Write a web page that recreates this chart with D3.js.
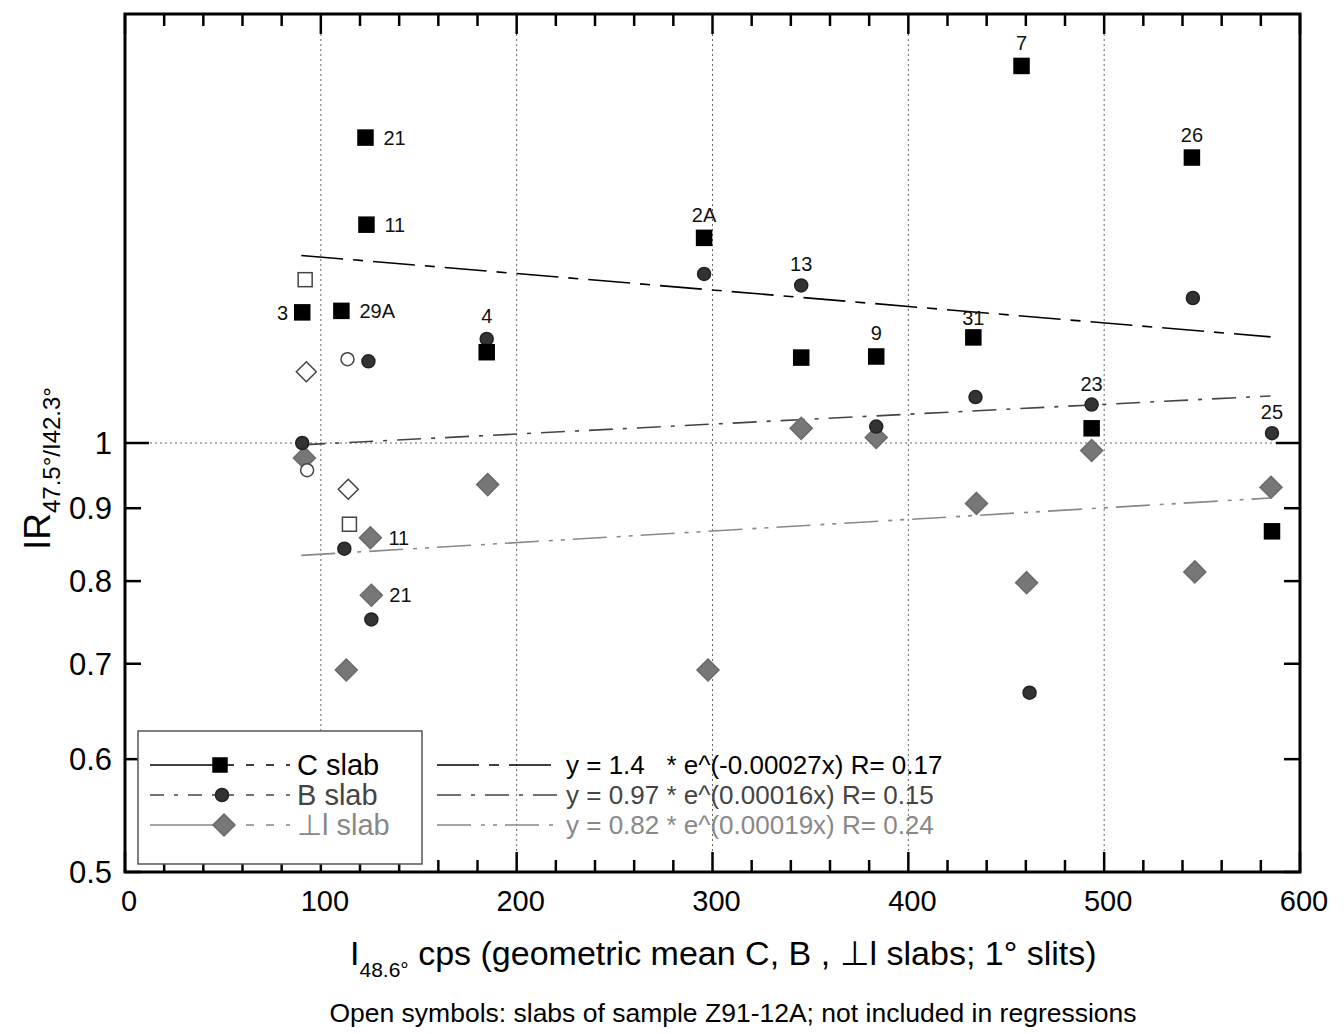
<!DOCTYPE html>
<html>
<head>
<meta charset="utf-8">
<script src="https://cdn.jsdelivr.net/npm/d3@7"></script>
<style>
body { margin:0; background:#fff; }
text { font-family: "Liberation Sans Narrow", "Liberation Sans", Arial, sans-serif; }
</style>
</head>
<body>
<div id="chart-area"></div>
<script>
// C slab (black squares)
var cX = [90.5, 110.5, 122.8, 123.3, 184.7, 295.7, 345.3, 383.6, 433.2, 457.8, 493.6, 544.8, 585.7];
var cY = [1.235, 1.238, 1.638, 1.423, 1.158, 1.393, 1.148, 1.150, 1.186, 1.839, 1.024, 1.586, 0.867];
var cLab = ["3", "29A", "21", "11", "4", "2A", "", "9", "31", "7", "", "26", ""];
// B slab (dark circles)
var bX = [90.5, 112, 124.3, 125.8, 184.7, 295.7, 345.3, 383.6, 434.3, 461.9, 493.6, 545.3, 585.7];
var bY = [1.0, 0.843, 1.141, 0.752, 1.183, 1.314, 1.290, 1.027, 1.077, 0.668, 1.064, 1.264, 1.016];
var bLab = ["", "", "", "", "", "", "13", "", "", "", "23", "", "25"];
// perpendicular slab (grey diamonds)
var pX = [91.6, 113, 125.3, 125.8, 185.2, 297.7, 345.3, 383.6, 434.8, 460.4, 493.6, 546.3, 585.2];
var pY = [0.976, 0.693, 0.858, 0.782, 0.935, 0.693, 1.024, 1.009, 0.907, 0.798, 0.988, 0.812, 0.931];
var pLab = ["", "", "11", "21", "", "", "", "", "", "", "", "", ""];
// open symbols, sample Z91-12A
var oSqX = [92, 114.6], oSqY = [1.302, 0.877];
var oCiX = [113.6, 93], oCiY = [1.145, 0.957];
var oDiX = [92.6, 114], oDiY = [1.122, 0.928];
// regression line end points
var regX = [90, 585];
var regC = [1.354, 1.187];
var regB = [0.997, 1.079];
var regP = [0.834, 0.915];
var eqText = ["y = 1.4   * e^(-0.00027x) R= 0.17",
              "y = 0.97 * e^(0.00016x) R= 0.15",
              "y = 0.82 * e^(0.00019x) R= 0.24"];
var yTicks = [0.5, 0.6, 0.7, 0.8, 0.9, 1];

var W = 1344, H = 1034;
var pLeft = 125, pRight = 1300, pTop = 14, pBottom = 872;

var svg = d3.select("#chart-area").append("svg")
	.attr("width", W).attr("height", H);

var x = d3.scaleLinear().domain([0, 600]).range([pLeft, pRight]);
var y = d3.scaleLog().domain([0.5, 2]).range([pBottom, pTop]);

// grid
svg.selectAll(".vgrid").data([100, 200, 300, 400, 500]).enter()
	.append("line")
		.attr("x1", function(d){ return x(d); }).attr("x2", function(d){ return x(d); })
		.attr("y1", pTop).attr("y2", pBottom)
		.attr("stroke", "#666").attr("stroke-width", 1).attr("stroke-dasharray", "2,3");
svg.append("line")
	.attr("x1", pLeft).attr("x2", pRight).attr("y1", y(1)).attr("y2", y(1))
	.attr("stroke", "#666").attr("stroke-width", 1).attr("stroke-dasharray", "2,3");

// axes, ticks inward
var xMinor = d3.range(0, 601, 20);
function xt(sel, y0, dir){
	sel.selectAll(null).data(xMinor).enter().append("line")
		.attr("x1", function(d){ return x(d); }).attr("x2", function(d){ return x(d); })
		.attr("y1", y0)
		.attr("y2", function(d){ return y0 + dir * (d % 100 == 0 ? 20 : 12); })
		.attr("stroke", "#000").attr("stroke-width", 2.5);
}
xt(svg, pBottom, -1);
xt(svg, pTop, 1);

svg.selectAll(null).data(yTicks).enter().append("line")
	.attr("x1", pLeft).attr("x2", function(d){ return pLeft + (d == 1 ? 24 : 16); })
	.attr("y1", function(d){ return y(d); }).attr("y2", function(d){ return y(d); })
	.attr("stroke", "#000").attr("stroke-width", 2.5);
svg.selectAll(null).data(yTicks).enter().append("line")
	.attr("x1", pRight).attr("x2", function(d){ return pRight - (d == 1 ? 24 : 16); })
	.attr("y1", function(d){ return y(d); }).attr("y2", function(d){ return y(d); })
	.attr("stroke", "#000").attr("stroke-width", 2.5);

svg.append("rect")
	.attr("x", pLeft).attr("y", pTop).attr("width", pRight - pLeft).attr("height", pBottom - pTop)
	.attr("fill", "none").attr("stroke", "#000").attr("stroke-width", 3);

// tick labels
svg.selectAll(null).data(yTicks).enter().append("text")
	.attr("x", 112).attr("y", function(d){ return y(d) + 11; })
	.attr("text-anchor", "end").attr("font-size", "31px")
	.text(function(d){ return d; });
svg.selectAll(null).data([0, 100, 200, 300, 400, 500, 600]).enter().append("text")
	.attr("x", function(d){ return x(d) + 4; }).attr("y", 911)
	.attr("text-anchor", "middle").attr("font-size", "29px")
	.text(function(d){ return d; });

// regression lines
var reg = [
	{ v: regC, color: "#000", dash: "42,10,10,10" },
	{ v: regB, color: "#444", dash: "24,10,4,10" },
	{ v: regP, color: "#888", dash: "34,10,4,8,4,8" }
];
reg.forEach(function(r){
	svg.append("line")
		.attr("x1", x(regX[0])).attr("y1", y(r.v[0]))
		.attr("x2", x(regX[1])).attr("y2", y(r.v[1]))
		.attr("stroke", r.color).attr("stroke-width", 1.6)
		.attr("stroke-dasharray", r.dash);
});

// markers
function sq(g, cx, cy, s, fill, stroke){
	g.append("rect").attr("x", cx - s/2).attr("y", cy - s/2).attr("width", s).attr("height", s)
		.attr("fill", fill).attr("stroke", stroke).attr("stroke-width", 1.5);
}
function ci(g, cx, cy, r, fill, stroke){
	g.append("circle").attr("cx", cx).attr("cy", cy).attr("r", r)
		.attr("fill", fill).attr("stroke", stroke).attr("stroke-width", 1.5);
}
function di(g, cx, cy, s, fill, stroke){
	g.append("path")
		.attr("d", "M" + cx + "," + (cy - s) + "L" + (cx + s) + "," + cy + "L" + cx + "," + (cy + s) + "L" + (cx - s) + "," + cy + "Z")
		.attr("fill", fill).attr("stroke", stroke).attr("stroke-width", 1.5);
}

var pts = svg.append("g");
pX.forEach(function(d, i){ di(pts, x(d), y(pY[i]), 11, "#777", "#6a6a6a"); });
bX.forEach(function(d, i){ ci(pts, x(d), y(bY[i]), 6.5, "#333", "#222"); });
cX.forEach(function(d, i){ sq(pts, x(d), y(cY[i]), 15, "#000", "#000"); });
oSqX.forEach(function(d, i){ sq(pts, x(d), y(oSqY[i]), 14, "#fff", "#444"); });
oCiX.forEach(function(d, i){ ci(pts, x(d), y(oCiY[i]), 6.5, "#fff", "#444"); });
oDiX.forEach(function(d, i){ di(pts, x(d), y(oDiY[i]), 10, "#fff", "#444"); });

// point labels
function lab(xs, ys, ls, off){
	ls.forEach(function(l, i){
		if (!l) return;
		var o = off(l);
		svg.append("text")
			.attr("x", x(xs[i]) + o[0]).attr("y", y(ys[i]) + o[1])
			.attr("text-anchor", o[2]).attr("font-size", "20px").attr("fill", "#111")
			.style("font-family", "Liberation Sans, Arial, sans-serif")
			.text(l);
	});
}
lab(cX, cY, cLab, function(l){
	if (l == "3") return [-14, 8, "end"];
	if (l == "29A" || l == "21" || l == "11") return [18, 7, "start"];
	if (l == "4") return [0, -29, "middle"];
	if (l == "31") return [0, -12, "middle"];
	return [0, -16, "middle"];
});
lab(bX, bY, bLab, function(l){ return [0, -14, "middle"]; });
lab(pX, pY, pLab, function(l){ return [18, 7, "start"]; });

// legend
svg.append("rect").attr("x", 138).attr("y", 731).attr("width", 284).attr("height", 133)
	.attr("fill", "#fff").attr("stroke", "#555").attr("stroke-width", 1.5);
var legNames = ["C slab", "B slab", "\u22A5l slab"];
var legCol = ["#000", "#444", "#888"];
var legY = [765, 795, 825];
legNames.forEach(function(n, i){
	var g = svg.append("g");
	g.append("line").attr("x1", 150).attr("x2", 218).attr("y1", legY[i]).attr("y2", legY[i])
		.attr("stroke", legCol[i]).attr("stroke-width", 1.5)
		.attr("stroke-dasharray", i == 1 ? "14,10,4,10" : null);
	g.append("line").attr("x1", 226).attr("x2", 290).attr("y1", legY[i]).attr("y2", legY[i])
		.attr("stroke", legCol[i]).attr("stroke-width", 1.5).attr("stroke-dasharray", "8,12");
	if (i == 0) sq(g, 220, legY[i], 14, "#000", "#000");
	if (i == 1) ci(g, 222, legY[i], 6.5, "#333", "#222");
	if (i == 2) di(g, 224, legY[i], 11, "#777", "#6a6a6a");
	g.append("text").attr("x", 297).attr("y", legY[i] + 10)
		.attr("font-size", "29px").attr("fill", legCol[i])
		.style("font-family", "Liberation Sans, Arial, sans-serif")
		.text(n);
	g.append("line").attr("x1", 437).attr("x2", 558).attr("y1", legY[i]).attr("y2", legY[i])
		.attr("stroke", legCol[i]).attr("stroke-width", 1.5).attr("stroke-dasharray", reg[i].dash);
	g.append("text").attr("x", 566).attr("y", legY[i] + 9)
		.attr("font-size", "26px").attr("fill", legCol[i])
		.style("white-space", "pre").attr("xml:space", "preserve")
		.text(eqText[i]);
});

// axis titles
var yl = svg.append("text")
	.attr("transform", "translate(50,550) rotate(-90)")
	.attr("font-size", "37px")
	.style("font-family", "Liberation Sans, Arial, sans-serif");
yl.append("tspan").text("IR");
yl.append("tspan").attr("font-size", "24px").attr("dy", 10).text("47.5\u00B0/I42.3\u00B0");

var xl = svg.append("text").attr("x", 350).attr("y", 965).attr("font-size", "34px");
xl.append("tspan").text("I");
xl.append("tspan").attr("font-size", "21px").attr("dy", 12).text("48.6\u00B0");
xl.append("tspan").attr("dy", -12).text(" cps (geometric mean C, B , \u22A5l slabs; 1\u00B0 slits)");

svg.append("text").attr("x", 733).attr("y", 1022).attr("text-anchor", "middle")
	.attr("font-size", "26.5px")
	.text("Open symbols: slabs of sample Z91-12A; not included in regressions");
</script>
</body>
</html>
